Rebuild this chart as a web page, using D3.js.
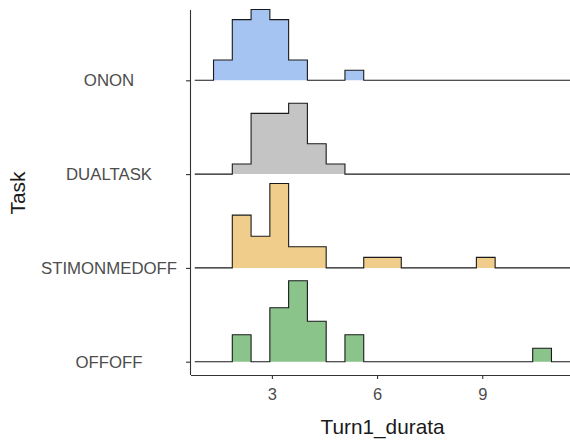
<!DOCTYPE html>
<html>
<head>
<meta charset="utf-8">
<script src="https://cdn.jsdelivr.net/npm/d3@7"></script>
<style>
  html, body { margin: 0; padding: 0; background: #fff; }
  svg { display: block; font-family: "Liberation Sans", Arial, sans-serif; }
</style>
</head>
<body>
<svg id="chart" width="570" height="441"></svg>
<script>
// Task groups, bottom to top
const tasks = ["OFFOFF", "STIMONMEDOFF", "DUALTASK", "ONON"];

// Histogram bins shared by all tasks (Turn1_durata)
const binStart = 0.80;
const binWidth = 0.5355;
const binCount = 20;

// Counts per bin for each task
const countsOFFOFF       = [0, 0, 2, 0, 4, 6, 3, 0, 2, 0, 0, 0, 0, 0, 0, 0, 0, 0, 1, 0];
const countsSTIMONMEDOFF = [0, 0, 5, 3, 8, 2, 2, 0, 0, 1, 1, 0, 0, 0, 0, 1, 0, 0, 0, 0];
const countsDUALTASK     = [0, 0, 1, 6, 6, 7, 3, 1, 0, 0, 0, 0, 0, 0, 0, 0, 0, 0, 0, 0];
const countsONON         = [0, 2, 6, 7, 6, 2, 0, 0, 1, 0, 0, 0, 0, 0, 0, 0, 0, 0, 0, 0];

const fillColors = ["#8ac48b", "#f1cd8b", "#c4c4c4", "#a6c4f1"];
const xTicks = [3, 6, 9];

const countsByTask = [countsOFFOFF, countsSTIMONMEDOFF, countsDUALTASK, countsONON];

const svg = d3.select("#chart");
const panel = { left: 191, right: 574, top: 10, bottom: 375 };

const xMin = binStart, xMax = binStart + binWidth * binCount;
const pad = (xMax - xMin) * 0.01;
const x = d3.scaleLinear().domain([xMin - pad, xMax + pad]).range([panel.left, panel.right]);

const y = d3.scalePoint().domain(tasks).range([361.7, 80.3]);

// density per bin, as in a ridgeline histogram
const series = tasks.map((t, i) => {
  const c = countsByTask[i];
  const n = d3.sum(c);
  return { task: t, fill: fillColors[i], dens: c.map(v => v / (n * binWidth)) };
});
const maxDens = d3.max(series, s => d3.max(s.dens));
const h = d3.scaleLinear().domain([0, maxDens]).range([0, y.step() * 0.9]);

const edges = d3.range(binCount + 1).map(k => binStart + k * binWidth);

function stepPoints(dens) {
  const pts = [];
  dens.forEach((d, k) => {
    pts.push([edges[k], d]);
    pts.push([edges[k + 1], d]);
  });
  return pts;
}

svg.append("defs").append("clipPath").attr("id", "panel-clip")
  .append("rect").attr("x", panel.left).attr("y", 0)
  .attr("width", panel.right - panel.left).attr("height", panel.bottom);

const g = svg.append("g").attr("clip-path", "url(#panel-clip)");

// top ridge drawn first so lower ridges sit in front
series.slice().reverse().forEach(s => {
  const base = y(s.task);
  const pts = stepPoints(s.dens);
  const area = d3.area().x(p => x(p[0])).y0(base).y1(p => base - h(p[1]));
  const line = d3.line().x(p => x(p[0])).y(p => base - h(p[1]));
  g.append("path").attr("d", area(pts)).attr("fill", s.fill).attr("stroke", "none");
  g.append("path").attr("d", line(pts)).attr("fill", "none")
    .attr("stroke", "#1a1a1a").attr("stroke-width", 1.1).attr("stroke-linejoin", "miter");
});

// axes
const xAxis = d3.axisBottom(x).tickValues(xTicks).tickSize(4).tickPadding(9).tickFormat(d3.format("d"));
const gx = svg.append("g").attr("transform", `translate(0,${panel.bottom})`).call(xAxis);
gx.select(".domain").attr("d", `M${panel.left},0.5H${panel.right}`).attr("stroke", "#333").attr("stroke-width", 1.1);
gx.selectAll(".tick line").attr("stroke", "#333").attr("stroke-width", 1.1);
gx.selectAll(".tick text").attr("fill", "#4d4d4d").style("font-size", "16.5px")
  .style("font-family", "'Liberation Sans', Arial, sans-serif");

const yAxis = d3.axisLeft(y).tickSize(5).tickPadding(8);
const gy = svg.append("g").attr("transform", `translate(${panel.left},0)`).call(yAxis);
gy.select(".domain").attr("d", `M-0.5,${panel.top}V${panel.bottom}`).attr("stroke", "#333").attr("stroke-width", 1.1);
gy.selectAll(".tick line").attr("stroke", "#333").attr("stroke-width", 1.1);
// category labels are centred on a common column left of the axis
gy.selectAll(".tick text").attr("fill", "#4d4d4d").style("font-size", "16.8px")
  .style("font-family", "'Liberation Sans', Arial, sans-serif")
  .attr("text-anchor", "middle").attr("x", -82);

// axis titles
svg.append("text").attr("x", (panel.left + panel.right) / 2).attr("y", 434)
  .attr("text-anchor", "middle").attr("fill", "#1a1a1a").style("font-size", "20.8px")
  .text("Turn1_durata");
svg.append("text").attr("transform", `translate(25,193) rotate(-90)`)
  .attr("text-anchor", "middle").attr("fill", "#1a1a1a").style("font-size", "20.8px")
  .text("Task");
</script>
</body>
</html>
